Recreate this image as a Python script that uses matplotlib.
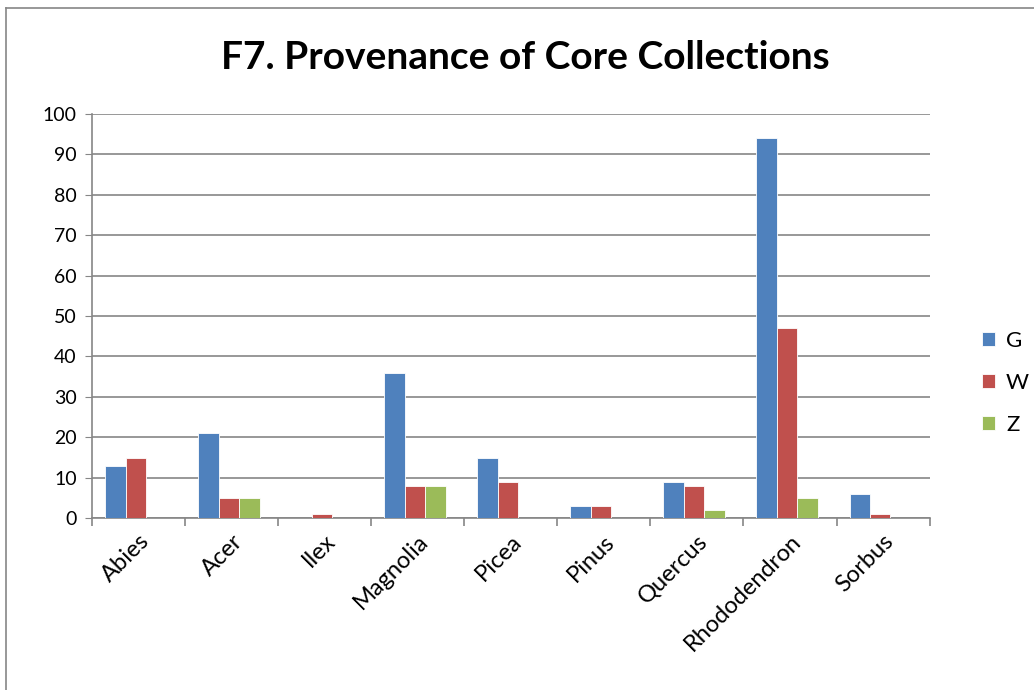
import numpy as np
import matplotlib.pyplot as plt
from matplotlib.lines import Line2D

# ── data ─────────────────────────────────────────────────────────────────────
genera = ["Abies", "Acer", "Ilex", "Magnolia", "Picea", "Pinus",
          "Quercus", "Rhododendron", "Sorbus"]
g_vals = [13, 21, 0, 36, 15, 3, 9, 94, 6]
w_vals = [15, 5, 1, 8, 9, 3, 8, 47, 1]
z_vals = [0, 5, 0, 8, 0, 0, 2, 5, 0]
series_names = ["G", "W", "Z"]
colors = ["#4F81BD", "#C0504D", "#9BBB59"]

plt.rcParams["font.family"] = ["Lato", "DejaVu Sans"]

fig = plt.figure(figsize=(10.34, 6.9), dpi=100)
ax = fig.add_axes([0.089, 0.249, 0.81, 0.586])

x = np.arange(len(genera))
bw = 0.22
for i, (vals, c, name) in enumerate(zip([g_vals, w_vals, z_vals], colors, series_names)):
    ax.bar(x + (i - 1) * bw - 0.03, vals, width=bw, color=c, edgecolor="white",
           linewidth=0.6, label=name, zorder=3)

ax.set_xlim(-0.5, len(genera) - 0.5)
ax.set_ylim(0, 100)
ax.set_yticks(range(0, 101, 10))
ax.tick_params(axis="y", labelsize=14, length=5, color="#868686", pad=6)
ax.grid(axis="y", color="#868686", linewidth=1.2, zorder=0)

ax.set_xticks(x)
ax.set_xticklabels(genera, rotation=45, ha="right", rotation_mode="anchor", fontsize=17)
ax.tick_params(axis="x", length=0, pad=9)
ax.set_xticks(np.arange(-0.5, len(genera)), minor=True)
ax.tick_params(axis="x", which="minor", length=6, color="#868686", width=1.2)

for s in ["top", "right"]:
    ax.spines[s].set_visible(False)
for s in ["left", "bottom"]:
    ax.spines[s].set_color("#868686")
    ax.spines[s].set_linewidth(1.2)

fig.suptitle("F7. Provenance of Core Collections", fontsize=28, fontweight="bold",
             x=0.508, y=0.942)

leg = fig.legend(loc="center left", bbox_to_anchor=(0.93, 0.445), frameon=False,
                 fontsize=16, handlelength=0.6, handleheight=0.6,
                 labelspacing=1.0, handletextpad=0.5)

# chart frame (only top and left edges visible in the crop)
fig.add_artist(Line2D([6 / 1034, 6 / 1034], [0, 1 - 8 / 690], color="#868686",
                      linewidth=1.2, transform=fig.transFigure))
fig.add_artist(Line2D([6 / 1034, 1], [1 - 8 / 690, 1 - 8 / 690], color="#868686",
                      linewidth=1.2, transform=fig.transFigure))

fig.savefig("out.png", dpi=100)
